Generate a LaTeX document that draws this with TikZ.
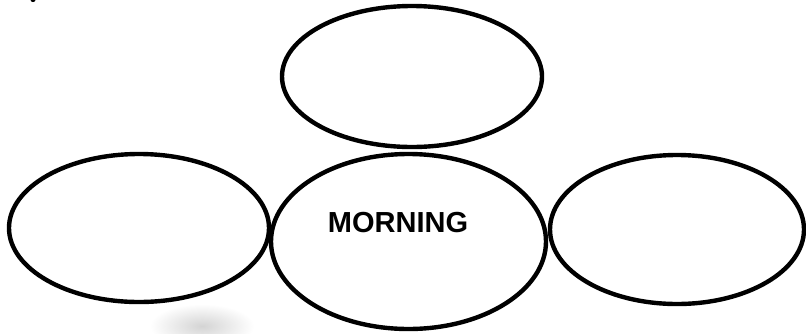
\documentclass[tikz,border=0pt]{standalone}
\usepackage{fontspec}
\setmainfont{Liberation Sans}
\usetikzlibrary{shapes.geometric}
\begin{document}
\begin{tikzpicture}[x=1pt,y=-1pt,
  bubble/.style={draw=black, line width=4.4pt, ellipse, inner sep=0pt, outer sep=0pt},
  smudge/.style={inner color=black!17, outer color=white}]
\useasboundingbox[fill=white] (0,0) rectangle (806,333);
% faint scan smudge
\shade[smudge] (202,326) ellipse [x radius=52, y radius=22];
% tiny mark at top-left
\fill[black] (33,0) ellipse [x radius=2.5, y radius=2];
\node[bubble, minimum width=260pt, minimum height=141pt] (top) at (412,76.5) {};
\node[bubble, minimum width=275pt, minimum height=175pt] (center) at (408.5,241.5) {};
\node[bubble, minimum width=260pt, minimum height=148pt] (left) at (139,228) {};
\node[bubble, minimum width=254pt, minimum height=149pt] (right) at (677,229.5) {};
\node[font=\fontsize{29}{34}\selectfont\bfseries] (label) at (398,223) {MORNING};
\end{tikzpicture}
\end{document}
